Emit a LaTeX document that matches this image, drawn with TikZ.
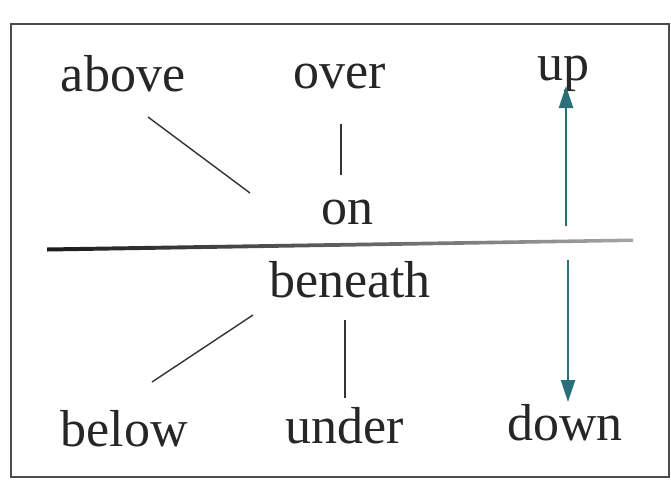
\documentclass[tikz,border=0pt]{standalone}
\usepackage{fontspec}
\setmainfont{Liberation Serif}
\usetikzlibrary{arrows.meta}
\definecolor{teal1}{HTML}{2A7078}
\begin{document}
\begin{tikzpicture}[x=1pt,y=-1pt,
  word/.style={font=\fontsize{52}{56}\selectfont, inner sep=0pt, anchor=base, text=black!85},
  link/.style={draw=black!80, line width=1.4pt},
  tarrow/.style={draw=teal1, line width=2.4pt, -{Triangle[length=22pt,width=14pt]}}]
\useasboundingbox (0,0) rectangle (671,479);
\draw[black!70, line width=1.2pt] (11,24) rectangle (669,477);
\node[word] (above) at (123,91) {above};
\node[word] (over) at (340,88) {over};
\node[word] (up) at (563,80) {up};
\node[word] (on) at (347,224) {on};
\node[word] (beneath) at (350,297) {beneath};
\node[word] (below) at (124,446) {below};
\node[word] (under) at (345,443) {under};
\node[word] (down) at (565,440) {down};
\shade[left color=black!90, right color=black!35] (47,247.5) -- (633,238.5) -- (633,242) -- (47,251.5) -- cycle;
\coordinate (a1) at (148,117); \coordinate (a2) at (250,193);
\draw[link] (a1) -- (a2);
\coordinate (o1) at (341,124); \coordinate (o2) at (341,175);
\draw[link] (o1) -- (o2);
\coordinate (u1) at (566,226); \coordinate (u2) at (566,86);
\draw[tarrow] (u1) -- (u2);
\coordinate (d1) at (568,260); \coordinate (d2) at (568,402);
\draw[tarrow] (d1) -- (d2);
\coordinate (b1) at (253,315); \coordinate (b2) at (152,382);
\draw[link] (b1) -- (b2);
\coordinate (n1) at (345,320); \coordinate (n2) at (345,398);
\draw[link] (n1) -- (n2);
\end{tikzpicture}
\end{document}
